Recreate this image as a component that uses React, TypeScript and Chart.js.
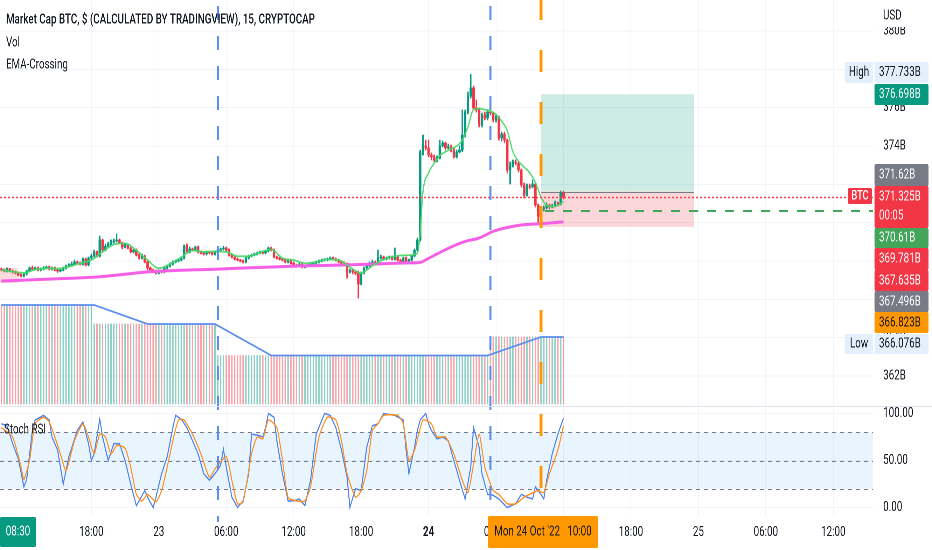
import React, { useEffect, useRef } from 'react';
import { Chart, registerables } from 'chart.js';

Chart.register(...registerables);

// ------------------------------------------------------------------ data
const firstOpen = 367.58;
const closes = [
  367.53, 367.48, 367.58, 367.48, 367.43, 367.37, 367.27, 367.22, 367.32, 367.48,
  367.64, 367.58, 367.64, 367.53, 367.58, 367.64, 367.69, 367.58, 367.64, 367.53,
  367.48, 367.53, 367.64, 367.74, 367.79, 367.84, 367.95, 367.90, 367.84, 368.10,
  367.79, 368.16, 368.26, 368.47, 368.26, 369.10, 368.57, 368.78, 368.89, 368.99,
  369.04, 369.10, 368.94, 368.73, 368.84, 368.68, 368.47, 368.57, 368.31, 368.16,
  368.26, 367.95, 367.64, 367.53, 367.48, 367.37, 367.48, 367.43, 367.64, 367.74,
  367.84, 367.95, 368.00, 368.05, 368.16, 368.78, 368.47, 368.63, 368.57, 368.73,
  368.47, 368.42, 368.37, 368.47, 368.42, 368.37, 368.47, 368.57, 368.63, 368.68,
  368.57, 368.31, 368.21, 368.10, 368.05, 368.00, 367.95, 368.16, 368.26, 368.31,
  368.37, 368.42, 368.47, 368.42, 368.52, 368.68, 368.57, 368.21, 368.16, 368.10,
  368.05, 367.95, 368.00, 367.90, 367.79, 367.74, 367.84, 367.69, 367.74, 367.79,
  367.84, 367.90, 367.95, 368.00, 368.05, 368.07, 368.10, 368.16, 368.10, 368.05,
  367.95, 367.90, 367.84, 367.43, 367.53, 367.43, 367.37, 366.80, 367.37, 367.64,
  367.74, 367.90, 367.95, 367.84, 368.16, 368.21, 368.10, 368.16, 368.21, 368.10,
  368.21, 368.05, 367.95, 368.16, 368.00, 368.05, 368.26, 368.57, 369.10, 373.64,
  374.00, 373.90, 373.53, 373.43, 373.27, 373.37, 374.00, 374.16, 373.90, 373.95,
  373.79, 373.43, 373.69, 373.79, 374.57, 375.77, 376.61, 377.03, 375.98, 375.88,
  375.10, 375.62, 375.46, 375.77, 375.72, 375.36, 375.51, 374.42, 374.63, 374.31,
  372.75, 373.01, 373.17, 373.11, 372.75, 371.97, 371.44, 371.91, 371.86, 372.02,
  370.92, 370.35, 370.71, 370.77, 370.92, 370.82, 370.87, 371.03, 370.97, 371.55,
  371.325,
];
const highs = [
  367.64, 367.58, 367.64, 367.62, 367.53, 367.48, 367.40, 367.32, 367.37, 367.53,
  367.69, 367.74, 367.69, 367.69, 367.64, 367.72, 367.74, 367.74, 367.69, 367.69,
  367.58, 367.58, 367.69, 367.79, 367.86, 367.95, 368.05, 368.00, 367.95, 368.16,
  368.16, 368.21, 368.37, 368.57, 368.52, 369.30, 369.15, 368.89, 368.99, 369.10,
  369.15, 369.41, 369.15, 368.99, 368.94, 368.89, 368.73, 368.63, 368.63, 368.37,
  368.37, 368.31, 368.00, 367.69, 367.58, 367.53, 367.53, 367.53, 367.69, 367.79,
  367.90, 368.00, 368.05, 368.10, 368.21, 368.84, 368.89, 368.73, 368.68, 368.78,
  368.78, 368.52, 368.47, 368.52, 368.52, 368.47, 368.52, 368.63, 368.68, 368.78,
  368.73, 368.63, 368.37, 368.26, 368.16, 368.10, 368.05, 368.21, 368.31, 368.37,
  368.42, 368.47, 368.52, 368.52, 368.57, 368.73, 368.73, 368.63, 368.26, 368.21,
  368.16, 368.10, 368.05, 368.05, 367.95, 367.84, 367.90, 367.90, 367.79, 367.84,
  367.90, 367.95, 368.00, 368.05, 368.10, 368.12, 368.16, 368.21, 368.21, 368.16,
  368.10, 368.00, 367.95, 367.90, 367.58, 367.58, 367.48, 367.48, 367.43, 367.69,
  367.84, 367.95, 368.05, 368.00, 368.57, 368.31, 368.26, 368.21, 368.26, 368.26,
  368.68, 368.26, 368.10, 368.21, 368.21, 368.10, 368.31, 368.63, 369.20, 373.79,
  374.57, 374.31, 374.31, 373.64, 373.53, 373.48, 374.31, 374.26, 374.21, 374.10,
  374.05, 373.90, 373.79, 374.00, 375.88, 375.88, 376.82, 377.73, 377.13, 376.40,
  375.98, 375.72, 375.77, 375.88, 375.82, 375.77, 375.62, 375.56, 374.73, 374.73,
  374.37, 373.17, 373.27, 373.27, 373.17, 372.80, 372.07, 372.02, 372.02, 372.23,
  372.07, 370.97, 370.82, 370.87, 371.03, 370.97, 370.97, 371.13, 371.08, 371.65,
  371.65,
];
const lows = [
  367.48, 367.43, 367.43, 367.43, 367.37, 367.32, 367.22, 367.17, 367.17, 367.27,
  367.43, 367.53, 367.53, 367.48, 367.48, 367.53, 367.58, 367.53, 367.53, 367.48,
  367.40, 367.43, 367.48, 367.58, 367.69, 367.74, 367.79, 367.84, 367.79, 367.79,
  367.74, 367.74, 368.10, 368.21, 368.21, 368.21, 368.47, 368.52, 368.73, 368.84,
  368.94, 368.99, 368.89, 368.63, 368.68, 368.63, 368.42, 368.42, 368.26, 368.10,
  368.10, 367.90, 367.53, 367.43, 367.40, 367.32, 367.32, 367.37, 367.37, 367.58,
  367.69, 367.79, 367.90, 367.95, 368.00, 368.10, 368.42, 368.42, 368.52, 368.52,
  368.42, 368.37, 368.31, 368.31, 368.37, 368.31, 368.31, 368.42, 368.52, 368.57,
  368.52, 368.26, 368.16, 368.05, 368.00, 367.95, 367.90, 367.90, 368.10, 368.21,
  368.26, 368.31, 368.37, 368.37, 368.37, 368.47, 368.52, 368.16, 368.10, 368.05,
  368.00, 367.90, 367.90, 367.84, 367.74, 367.69, 367.69, 367.64, 367.64, 367.69,
  367.74, 367.79, 367.84, 367.90, 367.95, 368.00, 368.00, 368.05, 368.05, 368.00,
  367.90, 367.84, 367.79, 367.11, 367.37, 367.32, 367.27, 366.07, 366.75, 367.32,
  367.58, 367.69, 367.84, 367.79, 367.79, 368.10, 368.05, 368.05, 368.10, 368.05,
  368.05, 368.00, 367.90, 367.90, 367.95, 367.95, 368.00, 368.21, 368.52, 369.04,
  373.53, 373.79, 373.43, 373.27, 373.17, 373.17, 373.32, 373.95, 373.79, 373.85,
  373.69, 373.37, 373.37, 373.64, 373.69, 374.47, 375.67, 376.50, 375.88, 375.77,
  374.99, 374.99, 375.36, 375.36, 375.62, 375.25, 375.25, 374.31, 374.26, 374.16,
  372.59, 372.02, 372.90, 373.01, 372.64, 371.86, 371.29, 371.39, 371.76, 371.81,
  370.82, 369.98, 370.30, 370.61, 370.71, 370.71, 370.77, 370.82, 370.87, 370.92,
  371.23,
];

// volume (stepped, run-length encoded)
const volLevels = [9.9, 8.0, 4.85, 6.7];
const volRuns = [33, 44, 97, 27];
const volMaBars = [0, 33, 52, 76, 96, 173, 192, 200];
const volMaVals = [9.9, 9.9, 8.0, 8.0, 4.85, 4.85, 6.7, 6.7];

// EMA-Crossing lines
const emaFastBars = [
  0, 4, 8, 12, 16, 20, 24, 28, 32, 36, 40, 44, 48, 52, 56, 60, 64, 68, 72, 76,
  80, 84, 88, 92, 96, 100, 104, 108, 112, 116, 120, 124, 128, 132, 136, 140, 144, 148,
  149, 150, 152, 154, 156, 158, 160, 162, 164, 166, 168, 170, 172, 174, 176, 178, 180,
  182, 184, 186, 188, 190, 192, 194, 196, 198, 200,
];
const emaFastVals = [
  367.53, 367.45, 367.38, 367.55, 367.62, 367.60, 367.70, 367.88, 368.05, 368.48,
  368.86, 368.92, 368.55, 368.05, 367.62, 367.85, 368.20, 368.55, 368.48, 368.50,
  368.48, 368.25, 368.25, 368.45, 368.60, 368.15, 368.05, 367.88, 367.95, 368.08,
  368.05, 367.68, 367.37, 367.75, 368.08, 368.25, 368.30, 368.40,
  369.5, 371.6, 372.6, 373.1, 373.5, 373.7, 373.85, 374.0, 374.3, 375.0, 375.9,
  375.95, 375.9, 375.82, 375.65, 375.3, 374.8, 373.7, 373.2, 372.9, 372.6, 372.1,
  371.35, 370.9, 370.85, 370.9, 371.1,
];
const emaSlowBars = [0, 18, 35, 53, 77, 106, 122, 145, 149, 152, 155, 160, 165, 170, 175, 180, 185, 190, 195, 200];
const emaSlowVals = [
  366.96, 367.06, 367.18, 367.44, 367.58, 367.74, 367.79, 367.90, 367.93, 368.14,
  368.37, 368.73, 369.02, 369.20, 369.55, 369.75, 369.88, 369.93, 369.98, 370.04,
];

// Stoch RSI
const stochKBars = [
  0, 2, 4, 6, 8, 9, 11, 12, 15, 17, 18, 20, 22, 24, 27, 29, 31, 32, 33, 35,
  36, 38, 40, 42, 44, 46, 48, 49, 51, 52, 54, 55, 57, 59, 61, 62, 64, 66, 68, 70,
  72, 74, 76, 78, 79, 80, 82, 84, 86, 88, 89, 91, 93, 94, 95, 97, 98, 100, 102, 104,
  106, 108, 110, 112, 115, 117, 119, 121, 123, 124, 126, 128, 130, 132, 134, 136, 138, 140, 143, 144,
  145, 147, 148, 149, 151, 152, 153, 155, 157, 159, 161, 163, 165, 167, 168, 170, 171, 173, 175, 177,
  180, 183, 185, 187, 189, 190, 192, 193, 194, 196, 198, 200,
];
const stochKVals = [
  89, 87, 68, 52, 22, 30, 82, 93, 98, 93, 75, 61, 25, 54, 82, 91, 68, 50, 57, 94,
  75, 50, 68, 68, 50, 25, 2, 7, 18, 11, 0, 11, 36, 54, 85, 98, 94, 85, 71, 57,
  36, 29, 36, 45, 62, 43, 11, 0, 7, 36, 78, 77, 75, 85, 100, 96, 71, 36, 7, 7,
  9, 2, 29, 78, 100, 98, 85, 61, 32, 0, 20, 18, 64, 87, 89, 100, 99, 98, 93, 61,
  36, 64, 82, 93, 100, 89, 82, 73, 75, 71, 50, 29, 9, 43, 85, 64, 36, 14, 13, 9,
  0, 4, 14, 11, 9, 22, 14, 9, 29, 57, 78, 95,
];
const stochDBars = [
  0, 4, 7, 8, 10, 12, 15, 17, 19, 21, 23, 26, 29, 31, 33, 35, 37, 39, 41, 44,
  46, 48, 50, 52, 55, 57, 59, 61, 63, 65, 68, 71, 74, 76, 80, 82, 84, 86, 89, 91,
  93, 95, 98, 100, 102, 105, 108, 110, 113, 116, 119, 121, 123, 126, 128, 130, 132, 134, 136, 141,
  143, 145, 147, 150, 153, 155, 158, 161, 164, 166, 168, 170, 172, 175, 177, 180, 183, 186, 188, 191,
  193, 195, 198, 200,
];
const stochDVals = [
  85, 75, 43, 30, 50, 89, 96, 91, 75, 57, 39, 71, 89, 75, 57, 78, 75, 57, 66, 63,
  43, 14, 7, 14, 6, 18, 43, 71, 93, 93, 78, 57, 32, 41, 54, 29, 4, 6, 57, 75,
  73, 93, 85, 50, 11, 7, 7, 22, 75, 96, 93, 71, 36, 11, 18, 39, 82, 89, 98, 98,
  89, 50, 61, 93, 89, 75, 75, 57, 29, 16, 46, 78, 43, 18, 14, 4, 4, 11, 14, 18,
  16, 36, 61, 87,
];
const stochBand = [20, 80];
const stochLevels = [20, 50, 80];

// axes
const priceTicks = [362, 364, 366, 368, 370, 372, 374, 376, 378, 380];
const stochTicks = [0, 50, 100];
const xTickBars = [32, 56, 80, 104, 128, 152, 176, 200, 224, 248, 272, 296];
const xTickLabels = ['18:00', '23', '06:00', '12:00', '18:00', '24', '06:00', '12:00', '18:00', '25', '06:00', '12:00'];

// drawings / markers
const lastPrice = 371.325;
const posStartBar = 192;
const posEndBar = 246.5;
const posTarget = 376.698;
const posEntry = 371.62;
const posStop = 369.781;
const alertPrice = 370.61;
const oldPosBars = [-0.5, 6];
const oldPosPrices = [367.64, 366.85];
const vLineBars = [77, 174];
const crosshairBar = 192;
const crosshairLabel = "Mon 24 Oct '22   10:00";
const startLabel = '08:30';
const tagValues = [377.733, 376.698, 371.62, 371.325, 370.61, 369.781, 367.635, 367.496, 366.823, 366.076];
const countdown = '00:05';
const titleText = 'Market Cap BTC, $ (CALCULATED BY TRADINGVIEW), 15, CRYPTOCAP';
const legendLines = ['Vol', 'EMA-Crossing'];
const stochTitle = 'Stoch RSI';

// ------------------------------------------------------------------ layout & style
const FONT = 'Roboto, "Noto Sans", sans-serif';
const TXT = '#131722';
const GRID = '#f0f3fa';
const UP = '#089981';
const DOWN = '#f23645';
const UP_VOL = 'rgba(8,153,129,0.45)';
const DOWN_VOL = 'rgba(242,54,69,0.45)';
const ALERT_GREEN = '#43a55a';
const FS = 14; // scale / legend font size (canvas px, before horizontal squeeze)

const SCREEN_W = 932;
const H = 550;
const W = Math.round(SCREEN_W / 0.7);
const R = SCREEN_W / W;
const S = (px: number) => px / R; // screen px -> canvas px (horizontal)

const tagLayout = [
  { top: 62, bottom: 83, bg: '#e3effd', fg: TXT, ty: 72.5 },
  { top: 84, bottom: 105, bg: UP, fg: '#ffffff', ty: 94.5 },
  { top: 164, bottom: 186, bg: '#787b86', fg: '#ffffff', ty: 175 },
  { top: 186, bottom: 228, bg: DOWN, fg: '#ffffff', ty: 197 },
  { top: 228, bottom: 248, bg: ALERT_GREEN, fg: '#ffffff', ty: 238 },
  { top: 248, bottom: 270, bg: DOWN, fg: '#ffffff', ty: 259 },
  { top: 270, bottom: 291, bg: DOWN, fg: '#ffffff', ty: 281 },
  { top: 291, bottom: 312, bg: '#787b86', fg: '#ffffff', ty: 302 },
  { top: 312, bottom: 333, bg: '#ff9800', fg: TXT, ty: 323 },
  { top: 334, bottom: 354, bg: '#e3effd', fg: TXT, ty: 344 },
];

// ------------------------------------------------------------------ derived tables
const nBars = closes.length;
const opens = closes.map((c, i) => (i === 0 ? firstOpen : closes[i - 1]));
const isUp = closes.map((c, i) => c >= opens[i]);
const volumes: number[] = [];
volRuns.forEach((n, k) => { for (let j = 0; j < n; j++) volumes.push(volLevels[k]); });
const pts = (bars: number[], vals: number[]) => bars.map((b, j) => ({ x: b, y: vals[j] }));
const idx = Array.from({ length: nBars }, (_, i) => i);

function font(size: number, weight: string | number = 'normal') {
  return `${weight} ${size}px ${FONT}`;
}

function rrect(ctx: any, x: number, y: number, w: number, h: number, r: number) {
  ctx.beginPath();
  if (ctx.roundRect) ctx.roundRect(x, y, w, h, r);
  else ctx.rect(x, y, w, h);
  ctx.fill();
}

function hline(ctx: any, x0: number, x1: number, y: number) {
  ctx.beginPath();
  ctx.moveTo(x0, y);
  ctx.lineTo(x1, y);
  ctx.stroke();
}

function txt(ctx: any, s: string, x: number, y: number, f: string, color: string, align: CanvasTextAlign = 'left') {
  ctx.font = f;
  ctx.fillStyle = color;
  ctx.textAlign = align;
  ctx.textBaseline = 'middle';
  ctx.fillText(s, x, y);
}

const overlay = {
  id: 'tvOverlay',
  beforeDatasetsDraw(chart: any) {
    const { ctx, chartArea: a, scales } = chart;
    const x = scales.x, y = scales.y, ys = scales.yStoch;
    ctx.save();
    // stoch band + levels
    const b80 = ys.getPixelForValue(stochBand[1]);
    const b20 = ys.getPixelForValue(stochBand[0]);
    ctx.fillStyle = 'rgba(33,150,243,0.1)';
    ctx.fillRect(a.left, b80, a.right - a.left, b20 - b80);
    ctx.strokeStyle = '#787b86';
    ctx.lineWidth = 1;
    ctx.setLineDash([S(4), S(4)]);
    stochLevels.forEach((lv) => hline(ctx, a.left, a.right, Math.round(ys.getPixelForValue(lv)) + 0.5));
    ctx.setLineDash([]);

    // old position tool at the far left
    const ox0 = x.getPixelForValue(oldPosBars[0]), ox1 = x.getPixelForValue(oldPosBars[1]);
    const oy0 = y.getPixelForValue(oldPosPrices[0]), oy1 = y.getPixelForValue(oldPosPrices[1]);
    ctx.fillStyle = 'rgba(242,54,69,0.18)';
    ctx.fillRect(ox0, oy0, ox1 - ox0, oy1 - oy0);

    // long position tool
    const pl = x.getPixelForValue(posStartBar), pr = x.getPixelForValue(posEndBar);
    const pt = y.getPixelForValue(posTarget), pe = y.getPixelForValue(posEntry), ps = y.getPixelForValue(posStop);
    ctx.fillStyle = 'rgba(8,153,129,0.2)';
    ctx.fillRect(pl, pt, pr - pl, pe - pt);
    ctx.fillStyle = 'rgba(242,54,69,0.2)';
    ctx.fillRect(pl, pe, pr - pl, ps - pe);
    ctx.strokeStyle = '#787b86';
    ctx.lineWidth = 1;
    hline(ctx, pl, pr, Math.round(pe) + 0.5);
    ctx.restore();
  },
  afterDatasetsDraw(chart: any) {
    const { ctx, chartArea: a, scales } = chart;
    const x = scales.x, y = scales.y;
    ctx.save();
    // last price dotted line
    ctx.strokeStyle = 'rgba(242,54,69,0.95)';
    ctx.lineWidth = 1.4;
    ctx.setLineDash([S(2), S(2)]);
    hline(ctx, a.left, a.right, Math.round(y.getPixelForValue(lastPrice)) + 0.5);
    // alert dashed line
    ctx.strokeStyle = ALERT_GREEN;
    ctx.lineWidth = 2;
    ctx.setLineDash([S(9), S(9)]);
    ctx.lineDashOffset = -S(4);
    hline(ctx, x.getPixelForValue(posStartBar), a.right, Math.round(y.getPixelForValue(alertPrice)));
    ctx.lineDashOffset = 0;
    // vertical blue dashed lines
    ctx.strokeStyle = '#5b8def';
    ctx.lineWidth = S(2);
    ctx.setLineDash([14, 16]);
    ctx.lineDashOffset = 24;
    vLineBars.forEach((b) => {
      const px = x.getPixelForValue(b);
      ctx.beginPath();
      ctx.moveTo(px, a.top);
      ctx.lineTo(px, a.bottom + 6);
      ctx.stroke();
    });
    // crosshair (orange)
    ctx.strokeStyle = '#ff9800';
    ctx.lineWidth = S(3);
    ctx.setLineDash([22, 30]);
    ctx.lineDashOffset = 2;
    const cx = x.getPixelForValue(crosshairBar);
    ctx.beginPath();
    ctx.moveTo(cx, a.top);
    ctx.lineTo(cx, a.bottom + 10);
    ctx.stroke();
    ctx.restore();
  },
  afterDraw(chart: any) {
    const { ctx, chartArea: a } = chart;
    ctx.save();
    // pane separator
    ctx.strokeStyle = '#e0e3eb';
    ctx.lineWidth = 1;
    hline(ctx, 0, W, 406.5);

    // currency label on top of scale
    ctx.fillStyle = '#ffffff';
    ctx.fillRect(a.right, 0, W - a.right, 27);
    txt(ctx, 'USD', S(883), 16, font(FS), TXT);

    // price tags
    const tx0 = S(874.5), tx1 = S(928.5);
    tagLayout.forEach((L) => {
      ctx.fillStyle = L.bg;
      rrect(ctx, tx0, L.top, tx1 - tx0, L.bottom - L.top, 2);
    });
    tagValues.forEach((v, k) => {
      const L = tagLayout[k];
      txt(ctx, `${v}B`, S(879), L.ty, font(FS), L.fg);
    });
    txt(ctx, countdown, S(879), 216, font(FS), 'rgba(255,255,255,0.9)');

    // side tags
    ctx.fillStyle = '#e3effd';
    rrect(ctx, S(845), 62, S(28), 21, 2);
    rrect(ctx, S(845), 334, S(28), 20, 2);
    txt(ctx, 'High', S(859), 72.5, font(FS), TXT, 'center');
    txt(ctx, 'Low', S(859), 344, font(FS), TXT, 'center');
    ctx.fillStyle = DOWN;
    rrect(ctx, S(848), 188, S(24), 16, 2);
    txt(ctx, 'BTC', S(860), 196, font(13, 500), '#ffffff', 'center');

    // legends
    txt(ctx, titleText, S(6), 20, font(14, 500), TXT);
    legendLines.forEach((s, k) => txt(ctx, s, S(6), 43 + k * 22, font(14), TXT));
    txt(ctx, stochTitle, S(4), 430, font(14), TXT);

    // time-axis labels
    ctx.fillStyle = UP;
    rrect(ctx, 0, 517, S(36), 30, 2);
    txt(ctx, startLabel, S(18), 532, font(FS), '#ffffff', 'center');
    ctx.fillStyle = '#ff9800';
    rrect(ctx, S(488), 516, S(110), 32, 2);
    txt(ctx, crosshairLabel, S(543), 532, font(FS), TXT, 'center');
    ctx.restore();
  },
};

export default function App() {
  const ref = useRef<HTMLCanvasElement>(null);
  useEffect(() => {
    document.body.style.margin = '0';
    const canvas = ref.current as HTMLCanvasElement;
    const config: any = {
      type: 'bar',
      data: {
        datasets: [
          {
            type: 'line', label: 'Stoch K', xAxisID: 'x', yAxisID: 'yStoch',
            data: pts(stochKBars, stochKVals), borderColor: '#4f82f2', borderWidth: 1.5,
            pointRadius: 0, tension: 0, order: 2,
          },
          {
            type: 'line', label: 'Stoch D', xAxisID: 'x', yAxisID: 'yStoch',
            data: pts(stochDBars, stochDVals), borderColor: '#ff8f1f', borderWidth: 1.5,
            pointRadius: 0, tension: 0.2, order: 1,
          },
          {
            type: 'line', label: 'EMA fast', xAxisID: 'x', yAxisID: 'y',
            data: pts(emaFastBars, emaFastVals), borderColor: 'rgba(70,215,100,0.9)', borderWidth: 1.8,
            pointRadius: 0, cubicInterpolationMode: 'monotone', order: 3,
          },
          {
            type: 'line', label: 'EMA slow', xAxisID: 'x', yAxisID: 'y',
            data: pts(emaSlowBars, emaSlowVals), borderColor: '#f55fe6', borderWidth: 3,
            pointRadius: 0, cubicInterpolationMode: 'monotone', order: 4,
          },
          {
            type: 'bar', label: 'Body', xAxisID: 'x', yAxisID: 'y',
            data: idx.map((i) => ({ x: i, y: [opens[i], closes[i]] })),
            backgroundColor: isUp.map((u) => (u ? UP : DOWN)),
            barThickness: S(2), grouped: false, minBarLength: 1, order: 5,
          },
          {
            type: 'bar', label: 'Wick', xAxisID: 'x', yAxisID: 'y',
            data: idx.map((i) => ({ x: i, y: [lows[i], highs[i]] })),
            backgroundColor: isUp.map((u) => (u ? UP : DOWN)),
            barThickness: S(1), grouped: false, order: 6,
          },
          {
            type: 'line', label: 'Vol MA', xAxisID: 'x', yAxisID: 'yVol',
            data: pts(volMaBars, volMaVals), borderColor: '#5b8def', borderWidth: 1.8,
            pointRadius: 0, tension: 0, order: 7,
          },
          {
            type: 'bar', label: 'Volume', xAxisID: 'x', yAxisID: 'yVol',
            data: idx.map((i) => ({ x: i, y: volumes[i] })),
            backgroundColor: isUp.map((u) => (u ? UP_VOL : DOWN_VOL)),
            barThickness: S(1), grouped: false, order: 8,
          },
        ],
      },
      options: {
        responsive: false,
        maintainAspectRatio: false,
        animation: false,
        devicePixelRatio: 2,
        events: [],
        layout: { padding: 0, autoPadding: false },
        plugins: { legend: { display: false }, tooltip: { enabled: false }, title: { display: false } },
        scales: {
          x: {
            type: 'linear', position: 'bottom', min: -0.5, max: 310.2, offset: false,
            afterBuildTicks: (s: any) => { s.ticks = xTickBars.map((v) => ({ value: v })); },
            afterFit: (s: any) => { s.height = 34; s.paddingLeft = 0; s.paddingRight = 0; },
            grid: { color: GRID, drawTicks: false, offset: false },
            border: { display: false },
            ticks: {
              autoSkip: false, maxRotation: 0, minRotation: 0, padding: 8, color: TXT,
              font: (c: any) => ({ family: FONT, size: FS, weight: xTickLabels[c.index] === '24' ? 'bold' : 'normal' }),
              callback: (_v: any, i: number) => xTickLabels[i],
            },
          },
          y: {
            type: 'linear', position: 'right', stack: 'pane', stackWeight: 406, weight: 0,
            min: 360.437, max: 381.616,
            afterBuildTicks: (s: any) => { s.ticks = priceTicks.map((v) => ({ value: v })); },
            afterFit: (s: any) => { s.width = Math.round(S(59)); s.paddingTop = 0; s.paddingBottom = 0; },
            grid: { color: GRID, drawTicks: false },
            border: { display: false },
            ticks: { padding: S(10), color: TXT, font: { family: FONT, size: FS }, callback: (v: any) => `${v}B` },
          },
          yStoch: {
            type: 'linear', position: 'right', stack: 'pane', stackWeight: 110, weight: 1,
            min: -9.04, max: 107.98,
            afterBuildTicks: (s: any) => { s.ticks = stochTicks.map((v) => ({ value: v })); },
            afterFit: (s: any) => { s.width = Math.round(S(59)); s.paddingTop = 0; s.paddingBottom = 0; },
            grid: { color: GRID, drawTicks: false },
            border: { display: false },
            ticks: { padding: S(10), color: TXT, font: { family: FONT, size: FS }, callback: (v: any) => Number(v).toFixed(2) },
          },
          yVol: { type: 'linear', display: false, min: -11.2, max: 40.4 },
        },
      },
      plugins: [overlay],
    };
    const chart = new Chart(canvas, config);
    return () => chart.destroy();
  }, []);

  return (
    <div style={{ position: 'fixed', left: 0, top: 0, width: SCREEN_W, height: H, overflow: 'hidden', background: '#ffffff' }}>
      <div style={{ width: W, height: H, transform: `scaleX(${R})`, transformOrigin: '0 0' }}>
        <canvas ref={ref} width={W} height={H} style={{ width: W, height: H, display: 'block' }} />
      </div>
    </div>
  );
}
